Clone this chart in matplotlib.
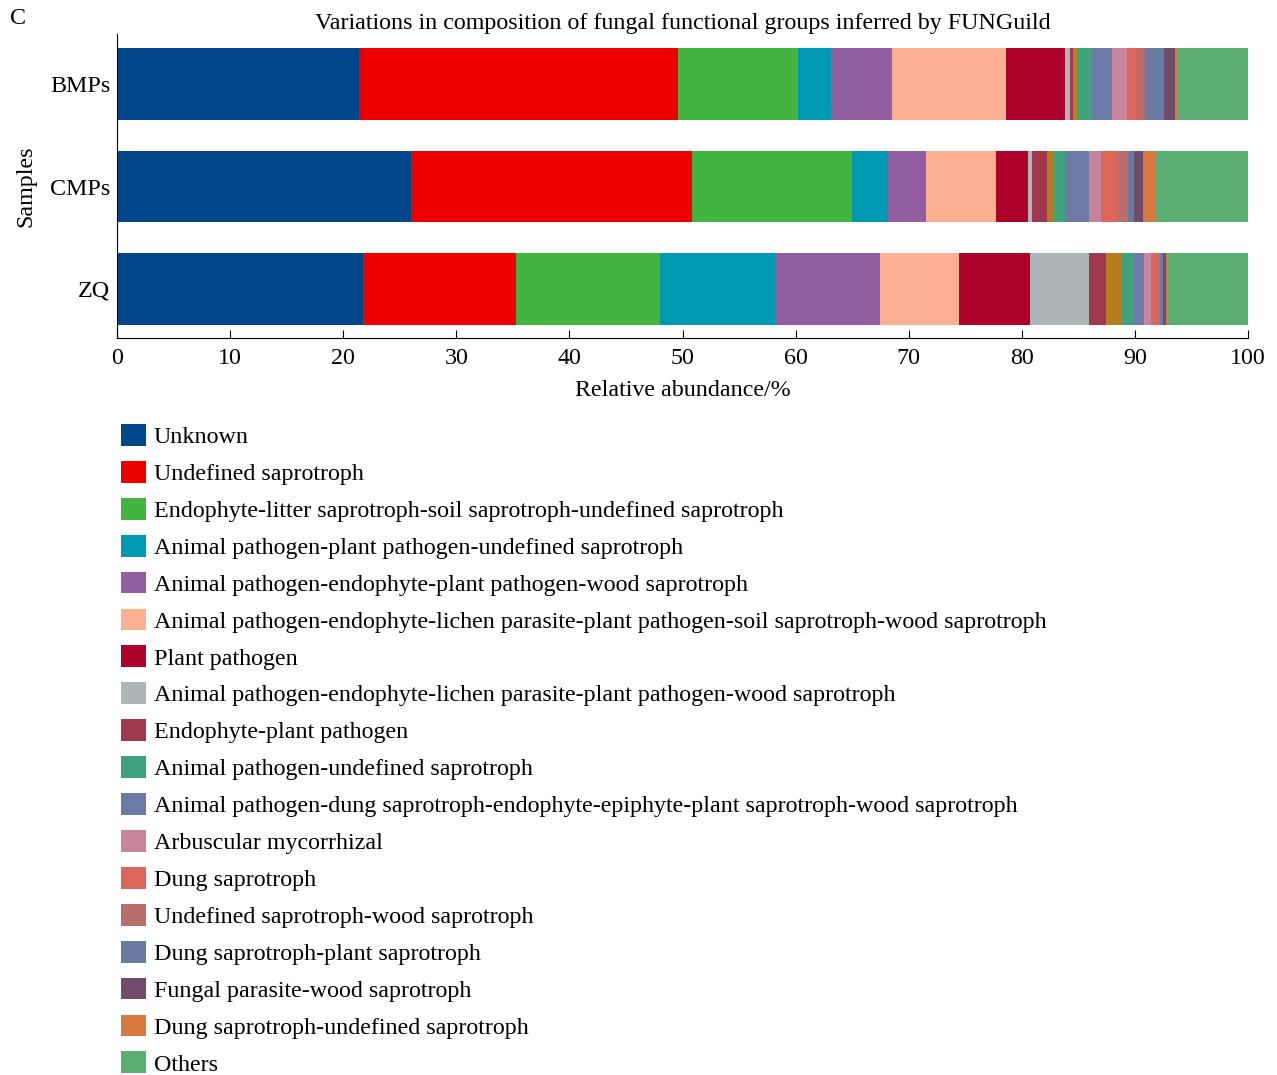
import matplotlib
matplotlib.use("Agg")
import matplotlib.pyplot as plt
import numpy as np

samples = ["ZQ", "CMPs", "BMPs"]

groups = [
    "Unknown",
    "Undefined saprotroph",
    "Endophyte-litter saprotroph-soil saprotroph-undefined saprotroph",
    "Animal pathogen-plant pathogen-undefined saprotroph",
    "Animal pathogen-endophyte-plant pathogen-wood saprotroph",
    "Animal pathogen-endophyte-lichen parasite-plant pathogen-soil saprotroph-wood saprotroph",
    "Plant pathogen",
    "Animal pathogen-endophyte-lichen parasite-plant pathogen-wood saprotroph",
    "Endophyte-plant pathogen",
    "_unlabelled",
    "Animal pathogen-undefined saprotroph",
    "Animal pathogen-dung saprotroph-endophyte-epiphyte-plant saprotroph-wood saprotroph",
    "Arbuscular mycorrhizal",
    "Dung saprotroph",
    "Undefined saprotroph-wood saprotroph",
    "Dung saprotroph-plant saprotroph",
    "Fungal parasite-wood saprotroph",
    "Dung saprotroph-undefined saprotroph",
    "Others",
]

colors = [
    "#00468B", "#ED0000", "#42B540", "#0099B4", "#925E9F", "#FDAF91",
    "#AD002A", "#ADB6B6", "#A0394F", "#B47D1E", "#3FA27E", "#6B7BA6",
    "#C8849A", "#DD665A", "#B86E6A", "#6A7BA2", "#6F4C6B", "#D7783E",
    "#5BAD72",
]

# values (%) per group, order: ZQ, CMPs, BMPs
zq   = [21.74, 13.51, 12.80, 10.12, 9.26, 7.05, 6.25, 5.25, 1.48, 1.39, 1.09, 0.88, 0.60, 0.53, 0.23, 0.30, 0.23, 0.17, 7.12]
cmps = [25.96, 24.89, 14.11, 3.21, 3.39, 6.14, 2.88, 0.30, 1.33, 0.65, 1.03, 2.07, 1.06, 1.39, 0.94, 0.59, 0.77, 1.09, 8.20]
bmps = [21.44, 28.16, 10.60, 2.90, 5.45, 10.09, 5.22, 0.41, 0.24, 0.36, 1.32, 1.77, 1.33, 0.89, 0.67, 1.68, 1.04, 0.15, 6.28]

data = np.array([zq, cmps, bmps]).T  # groups x samples

plt.rcParams["font.family"] = ["Liberation Serif", "DejaVu Serif"]
FS = 17.3

fig = plt.figure(figsize=(12.77, 10.75), dpi=100)
ax = fig.add_axes([117/1277, 1 - 338/1075, (1248-117)/1277, (338-34)/1075])

ypos = np.arange(len(samples))
left = np.zeros(len(samples))
handles = []
for g, c, vals in zip(groups, colors, data):
    b = ax.barh(ypos, vals, left=left, height=0.7, color=c, edgecolor="none", label=g)
    left += vals
    if not g.startswith("_"):
        handles.append(b)

ax.set_xlim(0, 100)
ax.set_ylim(-0.48, 2.49)
ax.set_yticks(ypos)
ax.set_yticklabels(samples, fontsize=FS)
ax.set_xticks(np.arange(0, 101, 10))
ax.tick_params(axis="x", direction="in", length=6, labelsize=FS, pad=7)
ax.tick_params(axis="y", length=0, pad=5)
for s in ["top", "right"]:
    ax.spines[s].set_visible(False)
ax.set_xlabel("Relative abundance/%", fontsize=FS, labelpad=8)
ax.set_ylabel("Samples", fontsize=FS, labelpad=10)
ax.set_title("Variations in composition of fungal functional groups inferred by FUNGuild",
             fontsize=FS, pad=2)
fig.text(10/1277, 1 - 18/1075, "C", fontsize=FS, va="center", ha="left")

fig.legend(handles=handles, labels=[h.get_label() for h in handles],
           loc="upper left", bbox_to_anchor=(121/1277, 1 - 424/1075),
           frameon=False, fontsize=FS, handlelength=1.02, handleheight=1.02,
           handletextpad=0.35, labelspacing=0.532, borderaxespad=0, borderpad=0)

fig.savefig("out.png", dpi=100)
